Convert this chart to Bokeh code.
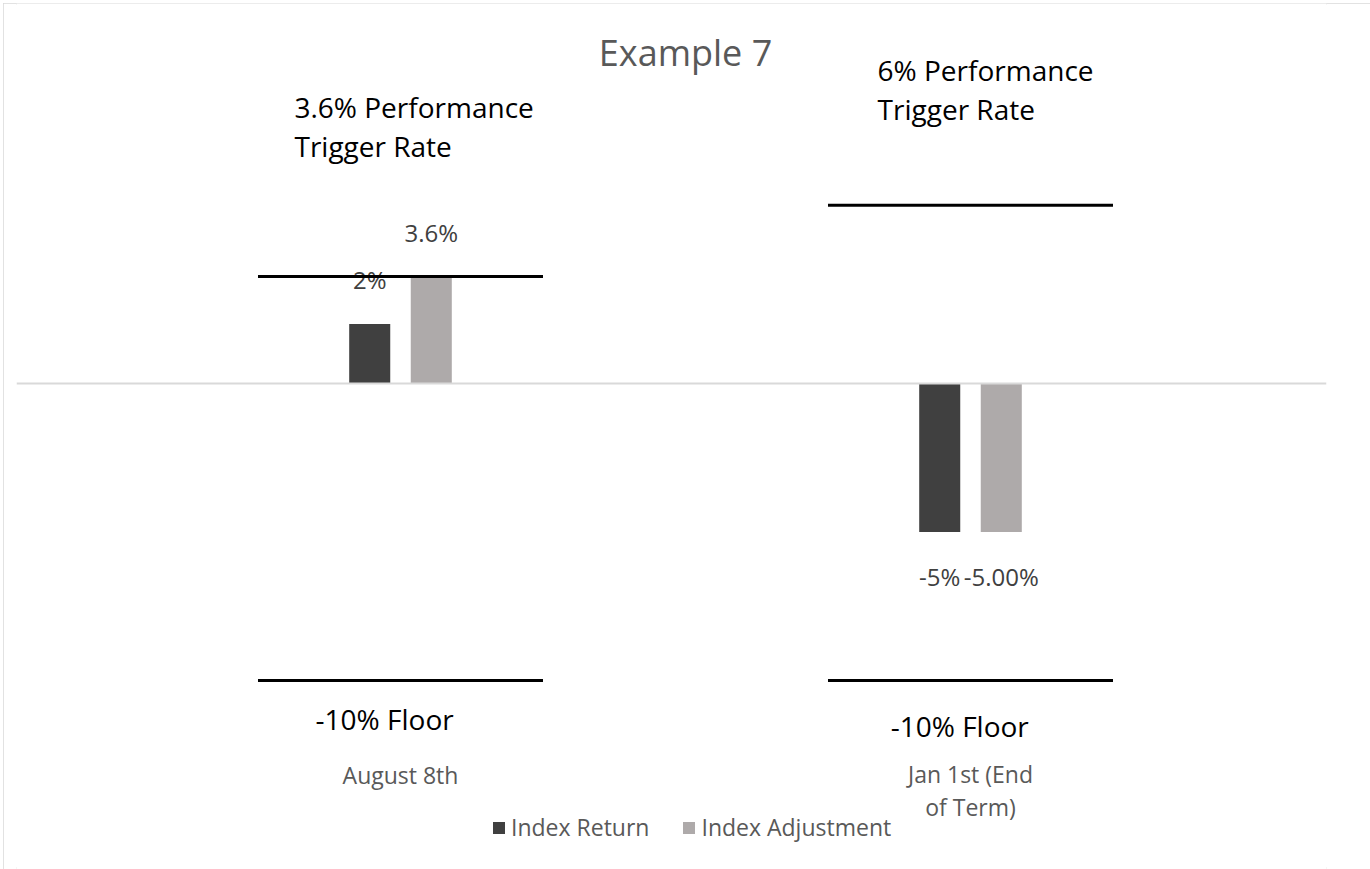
from bokeh.plotting import figure
from bokeh.models import ColumnDataSource, Span, Range1d, Legend, LegendItem
from bokeh.core.properties import value
from bokeh.embed import file_html
from bokeh.resources import INLINE

# ---------------- data ----------------
categories = ["August 8th", "Jan 1st (End\nof Term)"]
series_names = ["Index Return", "Index Adjustment"]
index_return = [2.0, -5.0]
index_adjustment = [3.6, -5.0]
return_labels = ["2%", "-5%"]
adjustment_labels = ["3.6%", "-5.00%"]
trigger_rates = [3.6, 6.0]
floors = [-10.0, -10.0]
trigger_texts = ["3.6% Performance\nTrigger Rate", "6% Performance\nTrigger Rate"]
floor_texts = ["-10% Floor", "-10% Floor"]
title_text = "Example 7"

# ---------------- styles ----------------
DARK = "#404040"
LIGHT = "#AEAAAA"
GRAY_TXT = "#595959"
FONT = value("Open Sans")

cat_x = list(range(len(categories)))
bar_w = 0.072
dodge_off = 0.054
half_line = 0.25
label_pad = 1.5

p = figure(width=1367, height=866,
           x_range=Range1d(-0.67368, 1.62456), y_range=Range1d(-16.363, 12.795),
           x_axis_type=None, y_axis_type=None,
           output_backend="svg", toolbar_location=None,
           min_border=0, min_border_left=13, min_border_right=44,
           min_border_top=0, min_border_bottom=0)
p.grid.visible = False
p.outline_line_color = None
p.background_fill_color = "white"
p.border_fill_color = "white"
p.styles = {"margin-left": "3px", "margin-top": "3px",
            "outline": "2px solid #d9d9d9", "outline-offset": "-2px"}

# zero line
p.add_layout(Span(location=0, dimension="width", line_color="#d9d9d9", line_width=2))

# bars
src = ColumnDataSource(dict(
    x_ret=[c - dodge_off for c in cat_x],
    x_adj=[c + dodge_off for c in cat_x],
    ret=index_return, adj=index_adjustment,
    ret_lab=return_labels, adj_lab=adjustment_labels,
    ret_ly=[v + (label_pad if v >= 0 else -label_pad) for v in index_return],
    adj_ly=[v + (label_pad if v >= 0 else -label_pad) for v in index_adjustment],
))
r1 = p.vbar(x="x_ret", top="ret", bottom=0, width=bar_w, source=src,
            fill_color=DARK, line_color=None)
r2 = p.vbar(x="x_adj", top="adj", bottom=0, width=bar_w, source=src,
            fill_color=LIGHT, line_color=None)

# data labels
p.text(x="x_ret", y="ret_ly", text="ret_lab", source=src, text_font=FONT,
       text_font_size="24px", text_color=DARK, text_align="center", text_baseline="middle")
p.text(x="x_adj", y="adj_ly", text="adj_lab", source=src, text_font=FONT,
       text_font_size="24px", text_color=DARK, text_align="center", text_baseline="middle")

# trigger and floor lines
p.segment(x0=[c - half_line for c in cat_x], x1=[c + half_line for c in cat_x],
          y0=trigger_rates, y1=trigger_rates, line_color="black", line_width=3)
p.segment(x0=[c - half_line for c in cat_x], x1=[c + half_line for c in cat_x],
          y0=floors, y1=floors, line_color="black", line_width=3)

# annotation texts
p.text(x=[-0.186, 0.837], y=[8.656, 9.899], text=trigger_texts, text_font=FONT,
       text_font_size="28px", text_color="black", text_align="left",
       text_baseline="middle", text_line_height=1.04)
p.text(x=[-0.149, 0.860], y=[-11.28, -11.52], text=floor_texts, text_font=FONT,
       text_font_size="28px", text_color="black", text_align="left",
       text_baseline="middle")

# category labels
p.text(x=cat_x, y=[-13.165, -13.70], text=categories, text_font=FONT,
       text_font_size="23px", text_color=GRAY_TXT, text_align="center",
       text_baseline="middle", text_line_height=1.03)

# title
p.text(x=[0.5], y=[11.14], text=[title_text], text_font=FONT,
       text_font_size="36px", text_color=GRAY_TXT, text_align="center",
       text_baseline="middle")

# legend
legend = Legend(items=[LegendItem(label=series_names[0], renderers=[r1]),
                       LegendItem(label=series_names[1], renderers=[r2])],
                orientation="horizontal", location=(475, 26),
                glyph_width=15, glyph_height=15, label_standoff=5, spacing=32,
                padding=0, margin=0, border_line_color=None,
                background_fill_alpha=0,
                label_text_font="Open Sans", label_text_font_size="23px",
                label_text_color=GRAY_TXT)
p.add_layout(legend)

open("out.html", "w").write(file_html(p, INLINE))
